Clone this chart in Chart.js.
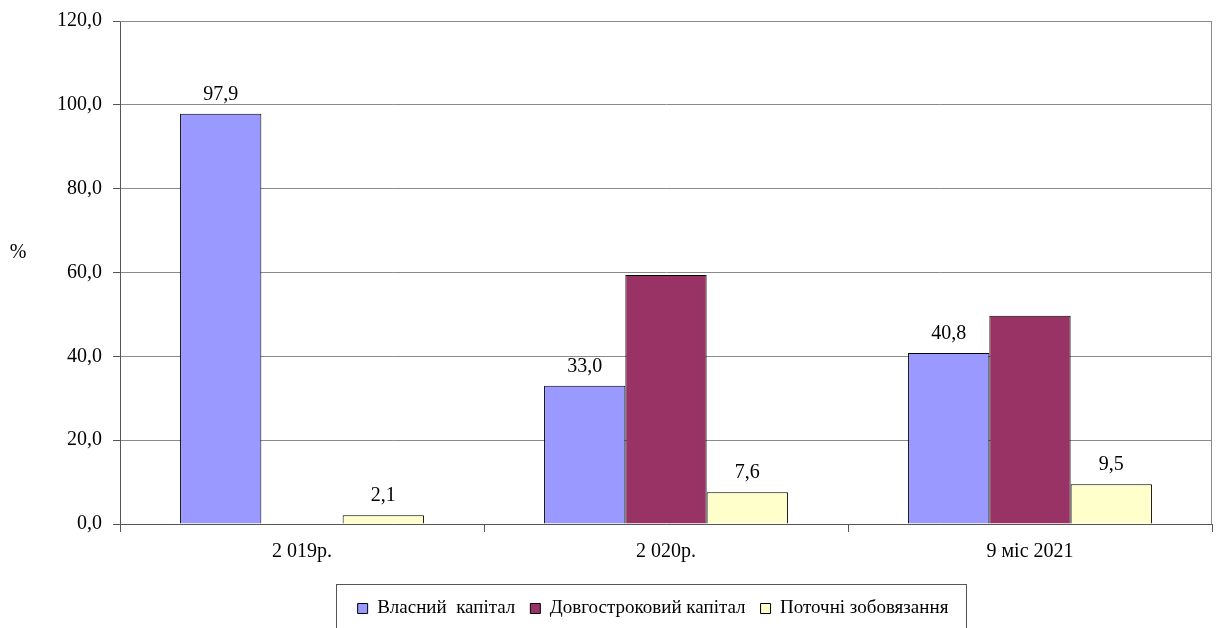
<!DOCTYPE html>
<html>
<head>
<meta charset="utf-8">
<script src="https://cdn.jsdelivr.net/npm/chart.js@4.4.1/dist/chart.umd.min.js"></script>
<style>
  html, body { margin: 0; padding: 0; background: #fff; }
  #wrap { width: 1216px; height: 628px; }
</style>
</head>
<body>
<div id="wrap"><canvas id="c" width="1216" height="628"></canvas></div>
<script>
// Capital structure by period, %
const categories = ['2 019р.', '2 020р.', '9 міс 2021'];
const seriesNames = ['Власний  капітал', 'Довгостроковий капітал', 'Поточні зобовязання'];
const ownCapital = [97.9, 33.0, 40.8];
const longTermCapital = [null, 59.4, 49.7];
const currentLiabilities = [2.1, 7.6, 9.5];
const showValues = [true, false, true];
const yTicks = [0, 20, 40, 60, 80, 100, 120];

const colors = ['#9999FF', '#993366', '#FFFFCC'];
const fmt = v => v.toFixed(1).replace('.', ',');
const serif = "'Liberation Serif', 'Times New Roman', serif";

Chart.defaults.font.family = serif;
Chart.defaults.color = '#000';

const frame = {
  id: 'frame',
  afterLayout(chart) {
    // legend sits a little right of the canvas centre
    const lg = chart.legend;
    lg.left += 47;
    lg.right += 47;
  },
  beforeDatasetsDraw(chart) {
    const { ctx, chartArea: a } = chart;
    ctx.save();
    ctx.strokeStyle = '#8a8a8a';
    ctx.lineWidth = 1;
    ctx.beginPath();
    ctx.moveTo(a.left, a.top + 0.5);
    ctx.lineTo(a.right - 0.5, a.top + 0.5);
    ctx.lineTo(a.right - 0.5, a.bottom);
    ctx.stroke();
    ctx.restore();
  },
  afterDraw(chart) {
    const { ctx, legend } = chart;
    ctx.save();
    // axis unit
    ctx.font = '20px ' + serif;
    ctx.fillStyle = '#000';
    ctx.textAlign = 'center';
    ctx.textBaseline = 'middle';
    ctx.fillText('%', 18, 253);
    // legend box
    const boxes = legend.legendHitBoxes;
    if (boxes && boxes.length) {
      const l = Math.min(...boxes.map(b => b.left)) - 22;
      const r = Math.max(...boxes.map(b => b.left + b.width)) + 17;
      const t = legend.top;
      const b = legend.bottom + 6;
      ctx.strokeStyle = '#555';
      ctx.lineWidth = 1;
      ctx.strokeRect(Math.round(l) + 0.5, Math.round(t) + 0.5, Math.round(r - l), Math.round(b - t));
    }
    ctx.restore();
  }
};

const valueLabels = {
  id: 'valueLabels',
  afterDatasetsDraw(chart) {
    const { ctx } = chart;
    ctx.save();
    ctx.font = '20px ' + serif;
    ctx.fillStyle = '#000';
    ctx.textAlign = 'center';
    ctx.textBaseline = 'bottom';
    chart.data.datasets.forEach((ds, i) => {
      if (!showValues[i]) return;
      chart.getDatasetMeta(i).data.forEach((bar, j) => {
        const v = ds.data[j];
        if (v == null) return;
        ctx.fillText(fmt(v), bar.x, bar.y - 9);
      });
    });
    ctx.restore();
  }
};

const seriesData = [ownCapital, longTermCapital, currentLiabilities];

new Chart(document.getElementById('c'), {
  type: 'bar',
  data: {
    labels: categories,
    datasets: seriesNames.map((name, i) => ({
      label: name,
      data: seriesData[i],
      backgroundColor: colors[i],
      borderColor: '#000',
      borderWidth: 1,
      categoryPercentage: 0.67,
      barPercentage: 1.0
    }))
  },
  options: {
    responsive: false,
    animation: false,
    layout: { padding: { top: 21, right: 4, left: 0, bottom: 0 } },
    plugins: {
      tooltip: { enabled: false },
      legend: {
        position: 'bottom',
        labels: {
          boxWidth: 10,
          boxHeight: 10,
          padding: 15,
          font: { size: 19, family: serif },
          color: '#000'
        }
      }
    },
    scales: {
      x: {
        afterFit: s => { s.height = 60; s.paddingLeft = 0; s.paddingRight = 0; },
        grid: {
          offset: true,
          drawOnChartArea: false,
          tickLength: 8,
          color: '#555'
        },
        border: { color: '#555' },
        ticks: { font: { size: 20, family: serif }, padding: 8, color: '#000' }
      },
      y: {
        min: 0,
        max: 120,
        afterFit: s => { s.width = 120; s.paddingTop = 0; s.paddingBottom = 0; },
        afterBuildTicks: s => { s.ticks = yTicks.map(v => ({ value: v })); },
        grid: { color: '#8a8a8a', tickLength: 7, tickColor: '#555' },
        border: { color: '#555' },
        ticks: {
          font: { size: 20, family: serif },
          padding: 11,
          color: '#000',
          callback: v => fmt(v)
        }
      }
    }
  },
  plugins: [frame, valueLabels]
});
</script>
</body>
</html>
